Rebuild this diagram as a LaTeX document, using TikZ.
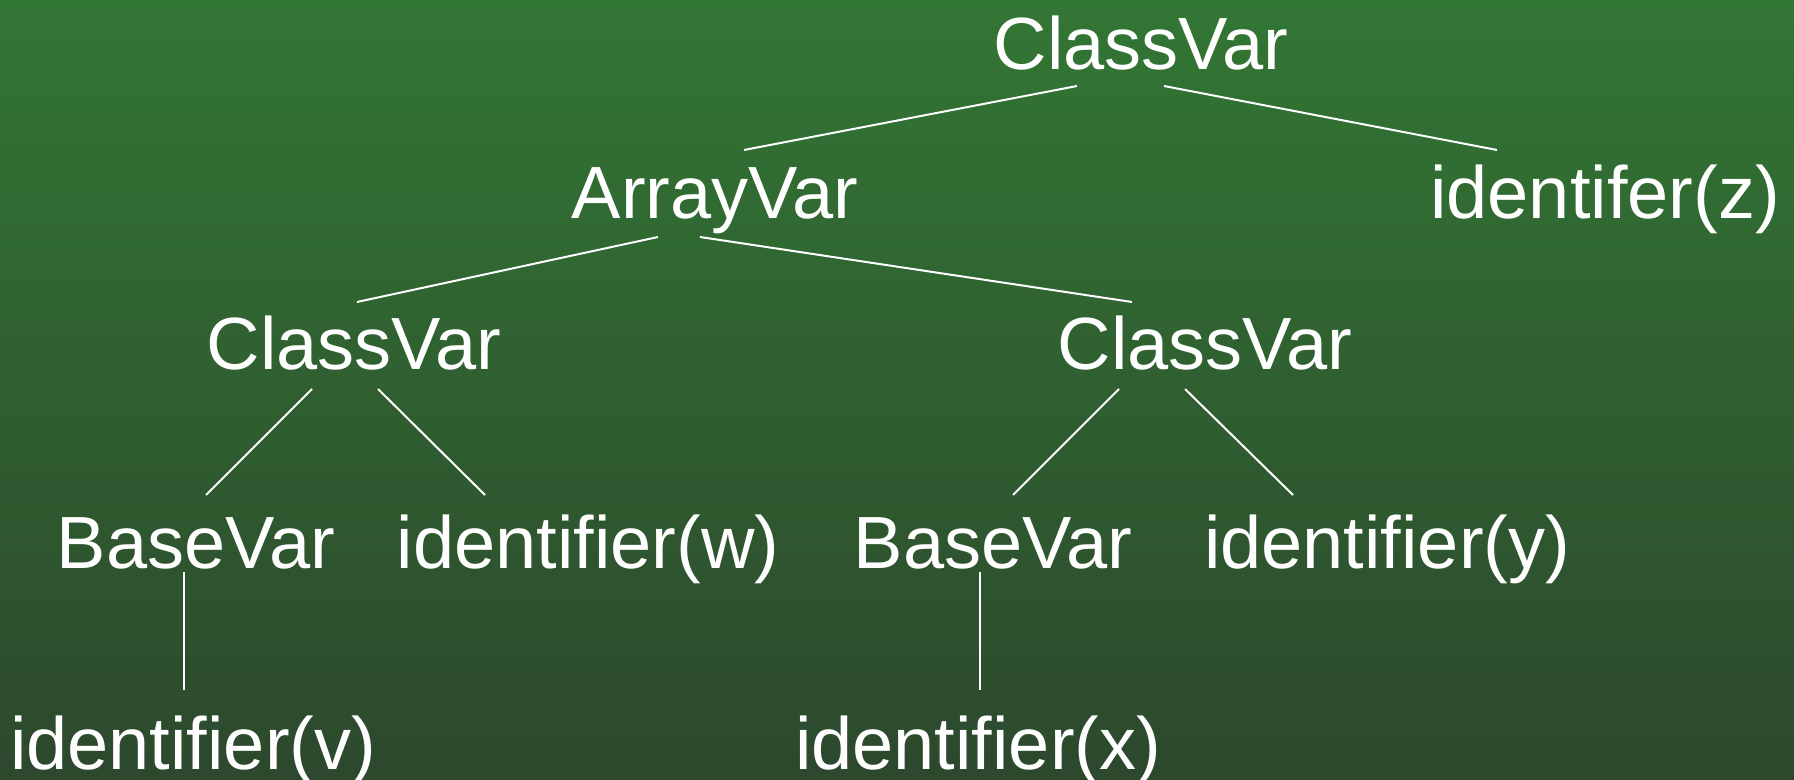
\documentclass[tikz,border=0pt]{standalone}
\usepackage{fontspec}
\setmainfont{Liberation Sans}
\definecolor{bgtop}{RGB}{50,118,52}
\definecolor{bgbot}{RGB}{45,72,45}
\begin{document}
\begin{tikzpicture}[x=0.5pt,y=-0.5pt,
  lbl/.style={anchor=base,inner sep=0pt,text=white,font=\fontsize{37pt}{40pt}\selectfont},
  edge/.style={draw=white,line width=1pt}]
\shade[top color=bgtop,bottom color=bgbot] (0,0) rectangle (1794,780);
\useasboundingbox (0,0) rectangle (1794,780);
\node[lbl] (cv0) at (1141,70) {ClassVar};
\node[lbl] (av) at (715,219) {ArrayVar};
\node[lbl] (iz) at (1605,219) {identifer(z)};
\node[lbl] (cvl) at (354,370) {ClassVar};
\node[lbl] (cvr) at (1205,370) {ClassVar};
\node[lbl] (bvl) at (196,568) {BaseVar};
\node[lbl] (iw) at (588,568) {identifier(w)};
\node[lbl] (bvr) at (993,568) {BaseVar};
\node[lbl] (iy) at (1387,568) {identifier(y)};
\node[lbl] (iv) at (193,769) {identifier(v)};
\node[lbl] (ix) at (978,769) {identifier(x)};
% connector end points
\coordinate (cv0a) at (1077,86); \coordinate (ava) at (744,150);
\coordinate (cv0b) at (1164,86); \coordinate (iza) at (1497,150);
\coordinate (avb) at (658,237); \coordinate (cvla) at (357,302);
\coordinate (avc) at (700,237); \coordinate (cvra) at (1132,302);
\coordinate (cvlb) at (312,389); \coordinate (bvla) at (206,495);
\coordinate (cvlc) at (378,389); \coordinate (iwa) at (485,495);
\coordinate (cvrb) at (1119,389); \coordinate (bvra) at (1013,495);
\coordinate (cvrc) at (1185,389); \coordinate (iya) at (1293,495);
\coordinate (bvlb) at (184,572); \coordinate (iva) at (184,690);
\coordinate (bvrb) at (980,572); \coordinate (ixa) at (980,690);
\draw[edge] (cv0a) -- (ava);
\draw[edge] (cv0b) -- (iza);
\draw[edge] (avb) -- (cvla);
\draw[edge] (avc) -- (cvra);
\draw[edge] (cvlb) -- (bvla);
\draw[edge] (cvlc) -- (iwa);
\draw[edge] (cvrb) -- (bvra);
\draw[edge] (cvrc) -- (iya);
\draw[edge] (bvlb) -- (iva);
\draw[edge] (bvrb) -- (ixa);
\end{tikzpicture}
\end{document}
